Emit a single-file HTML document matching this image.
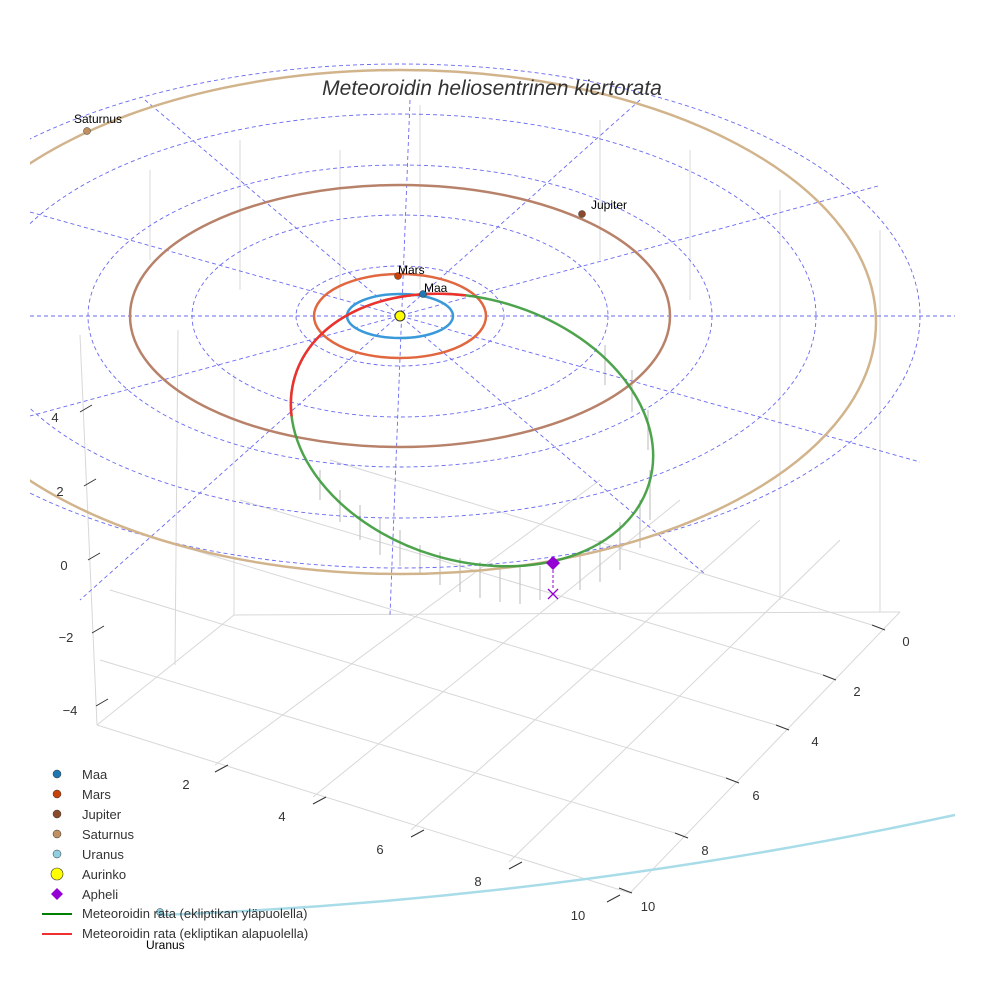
<!DOCTYPE html>
<html><head><meta charset="utf-8"><style>
html,body{margin:0;padding:0;background:#fff;}
svg{display:block;font-family:"Liberation Sans",sans-serif;}
</style></head><body>
<svg width="984" height="984" viewBox="0 0 984 984" xmlns="http://www.w3.org/2000/svg">
<defs><clipPath id="c"><rect x="30" y="0" width="925" height="984"/></clipPath></defs>
<rect width="984" height="984" fill="#fff"/>
<!-- gray grid -->
<g stroke="#d8d8d8" stroke-width="1" fill="none">
<line x1="80" y1="335" x2="97" y2="725"/>
<line x1="97" y1="725" x2="630" y2="893"/>
<line x1="630" y1="893" x2="900" y2="612"/>
<line x1="97" y1="725" x2="234" y2="615"/>
<line x1="234" y1="615" x2="900" y2="612"/>
<line x1="234" y1="615" x2="234" y2="374"/>
<line x1="175" y1="665" x2="178" y2="330"/>
<line x1="215" y1="765" x2="600" y2="480"/>
<line x1="313" y1="797" x2="680" y2="500"/>
<line x1="411" y1="830" x2="760" y2="520"/>
<line x1="509" y1="862" x2="840" y2="540"/>
<line x1="872" y1="625" x2="330" y2="460"/>
<line x1="823" y1="675" x2="240" y2="500"/>
<line x1="776" y1="725" x2="160" y2="540"/>
<line x1="726" y1="778" x2="110" y2="590"/>
<line x1="675" y1="833" x2="100" y2="660"/>
<line x1="340" y1="150" x2="340" y2="300"/>
<line x1="420" y1="105" x2="420" y2="290"/>
<line x1="600" y1="120" x2="600" y2="260"/>
<line x1="690" y1="150" x2="690" y2="300"/>
<line x1="780" y1="190" x2="780" y2="600"/>
<line x1="880" y1="230" x2="880" y2="612"/>
<line x1="240" y1="140" x2="240" y2="290"/>
<line x1="150" y1="170" x2="150" y2="260"/>
</g>
<!-- drop lines -->
<g stroke="#bbb" stroke-width="1">
<line x1="420" y1="545" x2="420" y2="575"/><line x1="440" y1="552" x2="440" y2="585"/>
<line x1="460" y1="558" x2="460" y2="592"/><line x1="480" y1="562" x2="480" y2="598"/>
<line x1="500" y1="566" x2="500" y2="602"/><line x1="520" y1="567" x2="520" y2="604"/>
<line x1="540" y1="566" x2="540" y2="600"/><line x1="580" y1="552" x2="580" y2="590"/>
<line x1="600" y1="540" x2="600" y2="582"/><line x1="620" y1="522" x2="620" y2="570"/>
<line x1="640" y1="500" x2="640" y2="548"/><line x1="650" y1="470" x2="650" y2="520"/>
<line x1="400" y1="530" x2="400" y2="566"/><line x1="380" y1="518" x2="380" y2="555"/>
<line x1="360" y1="505" x2="360" y2="540"/><line x1="340" y1="490" x2="340" y2="522"/>
<line x1="320" y1="470" x2="320" y2="500"/><line x1="605" y1="345" x2="605" y2="385"/>
<line x1="632" y1="370" x2="632" y2="412"/><line x1="648" y1="410" x2="648" y2="450"/>
</g>
<g clip-path="url(#c)">
<!-- dashed grid -->
<g stroke="#4444ee" stroke-width="0.9" fill="none" stroke-dasharray="4,3" opacity="0.8">
<ellipse cx="400" cy="316" rx="104" ry="50"/>
<ellipse cx="400" cy="316" rx="208" ry="101"/>
<ellipse cx="400" cy="316" rx="312" ry="151"/>
<ellipse cx="400" cy="316" rx="416" ry="202"/>
<ellipse cx="400" cy="316" rx="520" ry="252"/>
<line x1="30" y1="316" x2="955" y2="316"/>
<line x1="145" y1="100" x2="705" y2="574"/>
<line x1="30" y1="212" x2="920" y2="462"/>
<line x1="410" y1="100" x2="390" y2="615"/>
<line x1="640" y1="100" x2="80" y2="600"/>
<line x1="878" y1="186" x2="30" y2="416"/>
</g>
<!-- orbits -->
<g fill="none" stroke-width="2.5">
<ellipse cx="400" cy="322" rx="476" ry="252" stroke="#d2b48c"/>
<ellipse cx="400" cy="316" rx="270" ry="131" stroke="#b8826a"/>
<ellipse cx="400" cy="316" rx="86" ry="42" stroke="#e0673f"/>
<ellipse cx="400" cy="316" rx="53" ry="22" stroke="#3a9ad9"/>
<path d="M160 915 Q560 900 955 815" stroke="#a8dce8"/>
<ellipse cx="472" cy="430" rx="185" ry="131" transform="rotate(16.7 472 430)" stroke="#3a9a3a" opacity="0.9"/>
<ellipse cx="472" cy="430" rx="185" ry="131" transform="rotate(16.7 472 430)" stroke="#f03030" pathLength="100" stroke-dasharray="0 46 24.5 100"/>
</g>
</g>
<!-- markers -->
<circle cx="400" cy="316" r="5" fill="#ffff00" stroke="#333"/>
<circle cx="423" cy="294" r="3.5" fill="#1f77b4" stroke="#333" stroke-width="0.5"/>
<circle cx="398" cy="276" r="3.5" fill="#c8420a" stroke="#333" stroke-width="0.5"/>
<circle cx="582" cy="214" r="3.5" fill="#8b4a2b" stroke="#333" stroke-width="0.5"/>
<circle cx="87" cy="131" r="3.5" fill="#c09060" stroke="#333" stroke-width="0.5"/>
<circle cx="160" cy="912" r="3.5" fill="#90d0e0" stroke="#333" stroke-width="0.5"/>
<path d="M553 556 L560 563 L553 570 L546 563Z" fill="#9400d3"/>
<line x1="553" y1="570" x2="553" y2="590" stroke="#9400d3" stroke-dasharray="3,2"/>
<path d="M548 589 L558 599 M558 589 L548 599" stroke="#9400d3" stroke-width="1.3"/>
<g font-size="12" fill="#000">
<text x="74" y="123">Saturnus</text>
<text x="591" y="209">Jupiter</text>
<text x="398" y="274">Mars</text>
<text x="424" y="292">Maa</text>
<text x="146" y="949">Uranus</text>
</g>
<text x="492" y="95" font-size="21" font-style="italic" fill="#333" text-anchor="middle">Meteoroidin heliosentrinen kiertorata</text>
<!-- ticks -->
<g stroke="#333" stroke-width="1">
<line x1="80" y1="412" x2="92" y2="405"/><line x1="84" y1="486" x2="96" y2="479"/>
<line x1="88" y1="560" x2="100" y2="553"/><line x1="92" y1="633" x2="104" y2="626"/>
<line x1="96" y1="706" x2="108" y2="699"/>
<line x1="215" y1="772" x2="228" y2="765"/><line x1="313" y1="804" x2="326" y2="797"/>
<line x1="411" y1="837" x2="424" y2="830"/><line x1="509" y1="869" x2="522" y2="862"/>
<line x1="607" y1="902" x2="620" y2="895"/>
<line x1="885" y1="630" x2="872" y2="625"/><line x1="836" y1="680" x2="823" y2="675"/>
<line x1="789" y1="730" x2="776" y2="725"/><line x1="739" y1="783" x2="726" y2="778"/>
<line x1="688" y1="838" x2="675" y2="833"/><line x1="632" y1="893" x2="619" y2="888"/>
</g>
<g font-size="13" fill="#333" text-anchor="middle">
<text x="55" y="422">4</text><text x="60" y="496">2</text><text x="64" y="570">0</text>
<text x="66" y="642">−2</text><text x="70" y="715">−4</text>
<text x="186" y="789">2</text><text x="282" y="821">4</text><text x="380" y="854">6</text>
<text x="478" y="886">8</text><text x="578" y="920">10</text>
<text x="906" y="646">0</text><text x="857" y="696">2</text><text x="815" y="746">4</text>
<text x="756" y="800">6</text><text x="705" y="855">8</text><text x="648" y="911">10</text>
</g>
<!-- legend -->
<g font-size="13" fill="#333">
<circle cx="57" cy="774" r="4" fill="#1f77b4" stroke="#333" stroke-width="0.5"/><text x="82" y="779">Maa</text>
<circle cx="57" cy="794" r="4" fill="#c8420a" stroke="#333" stroke-width="0.5"/><text x="82" y="799">Mars</text>
<circle cx="57" cy="814" r="4" fill="#8b4a2b" stroke="#333" stroke-width="0.5"/><text x="82" y="819">Jupiter</text>
<circle cx="57" cy="834" r="4" fill="#c09060" stroke="#333" stroke-width="0.5"/><text x="82" y="839">Saturnus</text>
<circle cx="57" cy="854" r="4" fill="#90d0e0" stroke="#333" stroke-width="0.5"/><text x="82" y="859">Uranus</text>
<circle cx="57" cy="874" r="6" fill="#ffff00" stroke="#333" stroke-width="0.6"/><text x="82" y="879">Aurinko</text>
<path d="M57 888 L63 894 L57 900 L51 894Z" fill="#9400d3"/><text x="82" y="899">Apheli</text>
<line x1="42" y1="914" x2="72" y2="914" stroke="#008000" stroke-width="2"/><text x="82" y="918">Meteoroidin rata (ekliptikan yläpuolella)</text>
<line x1="42" y1="934" x2="72" y2="934" stroke="#f03030" stroke-width="2"/><text x="82" y="938">Meteoroidin rata (ekliptikan alapuolella)</text>
</g>
</svg>
</body></html>
